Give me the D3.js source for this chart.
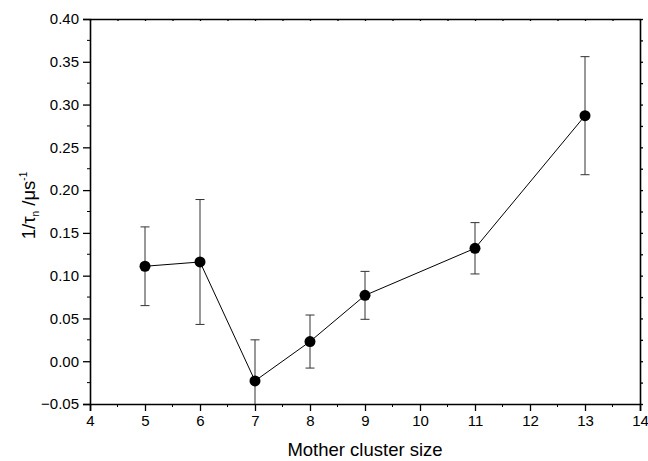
<!DOCTYPE html>
<html>
<head>
<meta charset="utf-8">
<script src="https://cdn.jsdelivr.net/npm/d3@7"></script>
<style>
  body { margin: 0; background: #fff; }
  text { font-family: "Liberation Sans", Arial, sans-serif; fill: #000; }
</style>
</head>
<body>
<svg id="chart" width="648" height="461"></svg>
<script>
// data
const clusterSize = [5, 6, 7, 8, 9, 11, 13];
const rate = [0.111, 0.116, -0.023, 0.023, 0.077, 0.132, 0.287];
const errUpper = [0.157, 0.189, 0.025, 0.054, 0.105, 0.162, 0.356];
const errLower = [0.065, 0.043, -0.071, -0.008, 0.049, 0.102, 0.218];
const xTicks = [4, 5, 6, 7, 8, 9, 10, 11, 12, 13, 14];
const yTicks = [-0.05, 0.00, 0.05, 0.10, 0.15, 0.20, 0.25, 0.30, 0.35, 0.40];

const svg = d3.select("#chart");
const margin = {left: 90, right: 8, top: 19, bottom: 57};
const width = 648 - margin.left - margin.right,
    height = 461 - margin.top - margin.bottom;

const x = d3.scaleLinear().domain([4, 14]).range([0, width]);
const y = d3.scaleLinear().domain([-0.05, 0.40]).range([height, 0]);

const g = svg.append("g")
    .attr("transform", "translate(" + margin.left + "," + margin.top + ")");

// minor tick positions
const xMinor = d3.range(4.5, 14, 1);
const yMinor = d3.range(-0.025, 0.4, 0.05);

// bottom axis
const xAxis = g.append("g")
    .attr("transform", "translate(0," + height + ")")
    .call(d3.axisBottom(x).tickValues(xTicks).tickSize(7).tickPadding(4).tickFormat(d3.format("d")));
xAxis.append("g").selectAll("line").data(xMinor).enter().append("line")
    .attr("x1", d => x(d)).attr("x2", d => x(d))
    .attr("y1", 0).attr("y2", 3).attr("stroke", "#000");

// left axis
const yAxis = g.append("g")
    .call(d3.axisLeft(y).tickValues(yTicks).tickSize(7).tickPadding(4).tickFormat(d3.format(".2f")));
yAxis.append("g").selectAll("line").data(yMinor).enter().append("line")
    .attr("y1", d => y(d)).attr("y2", d => y(d))
    .attr("x1", 0).attr("x2", -3).attr("stroke", "#000");

// top & right frame with small ticks
const topAxis = g.append("g")
    .call(d3.axisTop(x).tickValues(xTicks.concat(xMinor)).tickSizeInner(-2).tickSizeOuter(0).tickFormat(""));
const rightAxis = g.append("g")
    .attr("transform", "translate(" + width + ",0)")
    .call(d3.axisRight(y).tickValues(yTicks.concat(yMinor)).tickSizeInner(3).tickSizeOuter(0).tickFormat(""));

[xAxis, yAxis, topAxis, rightAxis].forEach(a => {
    a.select(".domain").attr("stroke-width", 1.6);
    a.selectAll(".tick line").attr("stroke-width", 1.3);
    a.selectAll("text").style("font-size", "15px").style("font-family", "Liberation Sans, Arial, sans-serif");
});

// clip for error bars that run past the axis
g.append("clipPath").attr("id", "clip")
    .append("rect").attr("width", width).attr("height", height);

const points = clusterSize.map((d, i) => ({x: d, y: rate[i], hi: errUpper[i], lo: errLower[i]}));

const err = g.append("g").attr("clip-path", "url(#clip)")
    .selectAll(".err").data(points).enter().append("g")
    .attr("class", "err")
    .attr("stroke", "#333")
    .attr("stroke-width", 1);

err.append("line")
    .attr("x1", d => x(d.x)).attr("x2", d => x(d.x))
    .attr("y1", d => y(d.hi)).attr("y2", d => y(d.lo));
err.append("line")
    .attr("x1", d => x(d.x) - 4.5).attr("x2", d => x(d.x) + 4.5)
    .attr("y1", d => y(d.hi)).attr("y2", d => y(d.hi));
err.append("line")
    .attr("x1", d => x(d.x) - 4.5).attr("x2", d => x(d.x) + 4.5)
    .attr("y1", d => y(d.lo)).attr("y2", d => y(d.lo));

const line = d3.line().x(d => x(d.x)).y(d => y(d.y));
g.append("path")
    .datum(points)
    .attr("d", line)
    .attr("fill", "none")
    .attr("stroke", "#000")
    .attr("stroke-width", 1);

g.selectAll(".dot").data(points).enter().append("circle")
    .attr("class", "dot")
    .attr("cx", d => x(d.x))
    .attr("cy", d => y(d.y))
    .attr("r", 5.5)
    .attr("fill", "#000");

// axis titles
svg.append("text")
    .attr("x", margin.left + width / 2)
    .attr("y", 456)
    .attr("text-anchor", "middle")
    .style("font-size", "18.5px")
    .text("Mother cluster size");

const yTitle = svg.append("text")
    .attr("transform", "translate(35," + (margin.top + height / 2 - 6) + ") rotate(-90)")
    .attr("text-anchor", "middle")
    .style("font-size", "18.5px");
yTitle.append("tspan").text("1/τ");
yTitle.append("tspan").attr("dy", 4).style("font-size", "10px").text("n");
yTitle.append("tspan").attr("dy", -4).text(" /μs");
yTitle.append("tspan").attr("dy", -8).style("font-size", "10px").text("-1");
</script>
</body>
</html>
